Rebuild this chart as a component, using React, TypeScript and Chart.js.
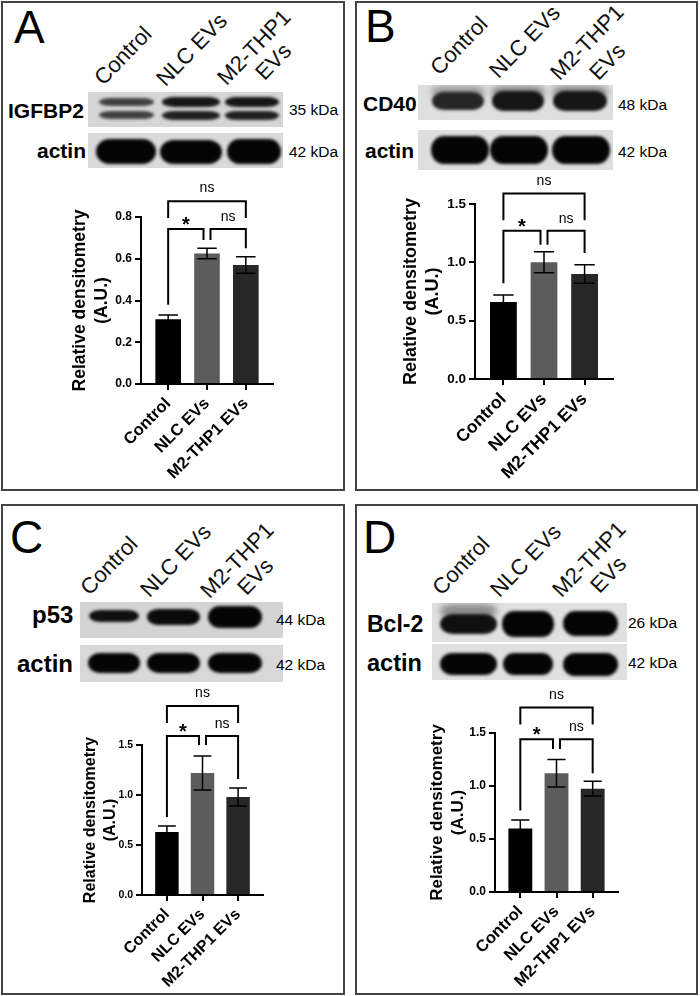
import React, { useEffect, useRef } from 'react';
import { Chart, registerables } from 'chart.js';

Chart.register(...registerables);

const FONT = '"Liberation Sans", Arial, Helvetica, sans-serif';

// ---------- data ----------
const categories = ['Control', 'NLC EVs', 'M2-THP1 EVs'];
const laneLabels = ['Control', 'NLC EVs', 'M2-THP1', 'EVs'];
const barColors = ['#000000', '#5c5c5c', '#272727'];
const sigLabels = ['ns', '*', 'ns'];
const yTitle = ['Relative densitometry', '(A.U.)'];

// A: IGFBP2
const meansA = [0.31, 0.625, 0.57];
const semA = [0.02, 0.025, 0.04];
const yTicksA = [0, 0.2, 0.4, 0.6, 0.8];
const bracketA = [0.875, 0.795, 0.743]; // outer top, outer leg end, inner top
const legEndsA = [0.38, 0.69, 0.69, 0.65];

// B: CD40
const meansB = [0.66, 1.0, 0.9];
const semB = [0.06, 0.09, 0.08];
const yTicksB = [0, 0.5, 1.0, 1.5];
const bracketB = [1.59, 1.36, 1.27];
const legEndsB = [0.82, 1.15, 1.15, 1.08];

// C: p53
const meansC = [0.63, 1.22, 0.98];
const semC = [0.06, 0.17, 0.09];
const yTicksC = [0, 0.5, 1.0, 1.5];
const bracketC = [1.89, 1.72, 1.59];
const legEndsC = [0.78, 1.5, 1.5, 1.16];

// D: Bcl-2
const meansD = [0.6, 1.12, 0.975];
const semD = [0.08, 0.13, 0.07];
const yTicksD = [0, 0.5, 1.0, 1.5];
const bracketD = [1.74, 1.58, 1.44];
const legEndsD = [0.77, 1.35, 1.35, 1.12];

// ---------- layout ----------
const panels = [
  {
    letter: 'A', letterPos: [14, 43], box: [1, 1, 344, 490],
    lanePos: [[104, 87], [166, 88], [227, 87], [265, 82]],
    protein: { text: 'IGFBP2', x: 8, y: 118, size: 21 },
    actin: { x: 37, y: 158, size: 21 },
    kda: [{ text: '35 kDa', x: 289, y: 115 }, { text: '42 kDa', x: 289, y: 157 }],
    blots: [
      { x: 88, y: 92, w: 195, h: 35, bg: '#d6d6d6', bands: [
        { cx: 126, w: 55, y: 98, h: 8, c: '#404040' }, { cx: 126, w: 55, y: 111, h: 8, c: '#404040' },
        { cx: 191, w: 58, y: 97, h: 10, c: '#151515' }, { cx: 191, w: 58, y: 111, h: 9, c: '#202020' },
        { cx: 252, w: 54, y: 97, h: 10, c: '#151515' }, { cx: 252, w: 54, y: 111, h: 9, c: '#202020' },
      ] },
      { x: 88, y: 133, w: 195, h: 35, bg: '#dadada', bands: [
        { cx: 126, w: 60, y: 139, h: 25, c: '#050505' },
        { cx: 191, w: 62, y: 140, h: 24, c: '#050505' },
        { cx: 254, w: 54, y: 139, h: 25, c: '#050505' },
      ] },
    ],
    chart: { left: 20, top: 160, width: 320, height: 328, axisX: 141, axisEndX: 273, topY: 217, bottomY: 384,
      titleX: 80, titleFont: 17.5, tickFont: 12, xFont: 16.5, yMax: 0.8,
      means: meansA, sem: semA, ticks: yTicksA, bracket: bracketA, legs: legEndsA },
  },
  {
    letter: 'B', letterPos: [365, 42], box: [355, 1, 343, 490],
    lanePos: [[440, 77], [499, 80], [560, 82], [599, 82]],
    protein: { text: 'CD40', x: 363, y: 111, size: 21 },
    actin: { x: 365, y: 158, size: 21 },
    kda: [{ text: '48 kDa', x: 618, y: 110 }, { text: '42 kDa', x: 618, y: 157 }],
    blots: [
      { x: 418, y: 85, w: 195, h: 35, bg: '#dedede', bands: [
        { cx: 458, w: 54, y: 86, h: 12, c: '#9a9a9a', blur: 3 },
        { cx: 518, w: 54, y: 86, h: 12, c: '#8a8a8a', blur: 3 },
        { cx: 580, w: 56, y: 86, h: 12, c: '#8a8a8a', blur: 3 },
        { cx: 458, w: 52, y: 92, h: 18, c: '#262626' },
        { cx: 518, w: 52, y: 91, h: 20, c: '#151515' },
        { cx: 580, w: 54, y: 91, h: 20, c: '#151515' },
      ] },
      { x: 418, y: 130, w: 195, h: 40, bg: '#dedede', bands: [
        { cx: 460, w: 58, y: 136, h: 28, c: '#050505' },
        { cx: 519, w: 58, y: 136, h: 28, c: '#050505' },
        { cx: 581, w: 58, y: 136, h: 28, c: '#050505' },
      ] },
    ],
    chart: { left: 370, top: 150, width: 320, height: 338, axisX: 475, axisEndX: 613, topY: 204, bottomY: 379,
      titleX: 411, titleFont: 18, tickFont: 13.5, xFont: 17.5, yMax: 1.5,
      means: meansB, sem: semB, ticks: yTicksB, bracket: bracketB, legs: legEndsB },
  },
  {
    letter: 'C', letterPos: [10, 553], box: [1, 504, 344, 491],
    lanePos: [[90, 597], [150, 599], [210, 600], [247, 597]],
    protein: { text: 'p53', x: 32, y: 623, size: 24 },
    actin: { x: 17, y: 672, size: 24 },
    kda: [{ text: '44 kDa', x: 276, y: 625 }, { text: '42 kDa', x: 276, y: 670 }],
    blots: [
      { x: 80, y: 602, w: 203, h: 36, bg: '#d4d4d4', bands: [
        { cx: 114, w: 50, y: 610, h: 12, c: '#101010' },
        { cx: 173, w: 53, y: 609, h: 16, c: '#0a0a0a' },
        { cx: 235, w: 54, y: 606, h: 22, c: '#050505' },
      ] },
      { x: 80, y: 645, w: 203, h: 37, bg: '#d8d8d8', bands: [
        { cx: 114, w: 52, y: 653, h: 20, c: '#050505' },
        { cx: 173, w: 53, y: 653, h: 20, c: '#050505' },
        { cx: 235, w: 54, y: 653, h: 20, c: '#050505' },
      ] },
    ],
    chart: { left: 20, top: 680, width: 320, height: 312, axisX: 142, axisEndX: 263, topY: 745, bottomY: 895,
      titleX: 91, titleFont: 16, tickFont: 10.5, xFont: 16, yMax: 1.5,
      means: meansC, sem: semC, ticks: yTicksC, bracket: bracketC, legs: legEndsC },
  },
  {
    letter: 'D', letterPos: [363, 553], box: [355, 504, 343, 491],
    lanePos: [[442, 597], [500, 599], [562, 599], [600, 595]],
    protein: { text: 'Bcl-2', x: 367, y: 632, size: 23 },
    actin: { x: 367, y: 672, size: 23.5 },
    kda: [{ text: '26 kDa', x: 628, y: 628 }, { text: '42 kDa', x: 628, y: 668 }],
    blots: [
      { x: 432, y: 603, w: 195, h: 39, bg: '#e0e0e0', bands: [
        { cx: 468, w: 57, y: 604, h: 14, c: '#8c8c8c', blur: 3 },
        { cx: 468, w: 57, y: 614, h: 20, c: '#101010' },
        { cx: 528, w: 52, y: 611, h: 26, c: '#050505' },
        { cx: 590, w: 55, y: 611, h: 25, c: '#050505' },
      ] },
      { x: 432, y: 644, w: 195, h: 36, bg: '#e0e0e0', bands: [
        { cx: 468, w: 57, y: 653, h: 22, c: '#050505' },
        { cx: 528, w: 50, y: 653, h: 22, c: '#050505' },
        { cx: 590, w: 55, y: 653, h: 23, c: '#050505' },
      ] },
    ],
    chart: { left: 370, top: 680, width: 320, height: 312, axisX: 495, axisEndX: 618, topY: 733, bottomY: 892,
      titleX: 437, titleFont: 17, tickFont: 12, xFont: 16.5, yMax: 1.5,
      means: meansD, sem: semD, ticks: yTicksD, bracket: bracketD, legs: legEndsD },
  },
];

// ---------- components ----------
function T({ x, y, size, bold, rot, color, children }: any) {
  return (
    <span style={{
      position: 'absolute', left: x, top: y - 0.8465 * size, fontFamily: FONT, fontSize: size,
      fontWeight: bold ? 700 : 400, lineHeight: 1, whiteSpace: 'nowrap', color: color ?? '#000',
      transformOrigin: `0px ${0.8465 * size}px`, transform: rot ? `rotate(${rot}deg)` : undefined,
    }}>{children}</span>
  );
}

function Blot({ b }: any) {
  return (
    <div style={{ position: 'absolute', left: b.x, top: b.y, width: b.w, height: b.h, background: b.bg, overflow: 'hidden' }}>
      {b.bands.map((d: any, i: number) => (
        <div key={i} style={{
          position: 'absolute', left: d.cx - d.w / 2 - b.x, top: d.y - b.y, width: d.w, height: d.h,
          background: d.c, borderRadius: '22% / 50%', filter: `blur(${d.blur ?? 1.5}px)`,
        }} />
      ))}
    </div>
  );
}

function BarChart({ g }: any) {
  const ref = useRef<HTMLCanvasElement>(null);
  useEffect(() => {
    const lh = g.titleFont * 1.25;
    const titleLeft = g.titleX - lh / 2;
    const padLeft = titleLeft - g.left;
    const yW = g.axisX - titleLeft;
    const padTop = g.topY - g.top;
    const padRight = g.left + g.width - g.axisEndX;
    const xH = g.top + g.height - g.bottomY;

    const annot = {
      id: 'annot',
      afterDatasetsDraw(chart: any) {
        const ctx = chart.ctx;
        const xs = chart.scales.x;
        const ys = chart.scales.y;
        const meta = chart.getDatasetMeta(0);
        ctx.save();
        ctx.strokeStyle = '#000';
        ctx.lineCap = 'butt';
        ctx.lineWidth = 1.5;
        g.means.forEach((m: number, i: number) => {
          const x = xs.getPixelForValue(i);
          const half = meta.data[i].width * 0.38;
          const yt = ys.getPixelForValue(m + g.sem[i]);
          const yb = ys.getPixelForValue(m - g.sem[i]);
          ctx.beginPath();
          ctx.moveTo(x, yb); ctx.lineTo(x, yt);
          ctx.moveTo(x - half, yt); ctx.lineTo(x + half, yt);
          ctx.moveTo(x - half, yb); ctx.lineTo(x + half, yb);
          ctx.stroke();
        });
        const x0 = xs.getPixelForValue(0);
        const x1 = xs.getPixelForValue(1);
        const x2 = xs.getPixelForValue(2);
        const gap = 3.5;
        const yO = ys.getPixelForValue(g.bracket[0]);
        const yOL = ys.getPixelForValue(g.bracket[1]);
        const yI = ys.getPixelForValue(g.bracket[2]);
        const L = g.legs.map((v: number) => ys.getPixelForValue(v));
        ctx.lineWidth = 2;
        ctx.lineJoin = 'miter';
        const poly = (pts: number[][]) => {
          ctx.beginPath();
          ctx.moveTo(pts[0][0], pts[0][1]);
          for (let k = 1; k < pts.length; k++) ctx.lineTo(pts[k][0], pts[k][1]);
          ctx.stroke();
        };
        poly([[x0, yOL], [x0, yO], [x2, yO], [x2, yOL]]);
        poly([[x0, L[0]], [x0, yI], [x1 - gap, yI], [x1 - gap, L[1]]]);
        poly([[x1 + gap, L[2]], [x1 + gap, yI], [x2, yI], [x2, L[3]]]);
        ctx.fillStyle = '#000';
        ctx.textAlign = 'center';
        ctx.textBaseline = 'alphabetic';
        ctx.font = `14px ${FONT}`;
        ctx.fillText(sigLabels[0], (x0 + x2) / 2, yO - 9);
        ctx.fillText(sigLabels[2], (x1 + gap + x2) / 2, yI - 8);
        ctx.font = `bold 20px ${FONT}`;
        ctx.fillText(sigLabels[1], (x0 + x1 - gap) / 2, yI + 2);
        ctx.restore();
      },
    };

    const axisGrid = { drawOnChartArea: false, drawTicks: true, tickLength: 6, color: '#000', lineWidth: 2, offset: false };
    const axisBorder = { display: true, color: '#000', width: 2 };

    const chart = new Chart(ref.current as HTMLCanvasElement, {
      type: 'bar',
      data: {
        datasets: [{
          data: g.means.map((v: number, i: number) => ({ x: i, y: v })),
          backgroundColor: barColors,
          borderWidth: 0,
          barPercentage: 0.66,
          categoryPercentage: 1,
        }],
      },
      options: {
        animation: false,
        responsive: false,
        maintainAspectRatio: false,
        layout: { padding: { left: padLeft, top: padTop, right: padRight, bottom: 0 } },
        plugins: { legend: { display: false }, tooltip: { enabled: false } },
        scales: {
          x: {
            type: 'linear', min: -0.7, max: 2.7, offset: false,
            afterBuildTicks: (s: any) => { s.ticks = categories.map((_, i) => ({ value: i })); },
            afterFit: (s: any) => { s.height = xH; },
            ticks: {
              autoSkip: false, maxRotation: 45, minRotation: 45, padding: 4, color: '#000',
              font: { family: FONT, weight: 'bold', size: g.xFont },
              callback: (v: any) => categories[v] ?? '',
            },
            grid: axisGrid,
            border: axisBorder,
          },
          y: {
            min: 0, max: g.yMax,
            afterBuildTicks: (s: any) => { s.ticks = g.ticks.map((v: number) => ({ value: v })); },
            afterFit: (s: any) => { s.width = yW; },
            ticks: {
              padding: 3, color: '#000',
              font: { family: FONT, weight: 'bold', size: g.tickFont },
              callback: (v: any) => Number(v).toFixed(1),
            },
            grid: axisGrid,
            border: axisBorder,
            title: {
              display: true, text: yTitle, color: '#000', padding: 0,
              font: { family: FONT, weight: 'bold', size: g.titleFont, lineHeight: 1.25 },
            },
          },
        },
      },
      plugins: [annot],
    } as any);
    return () => chart.destroy();
  }, []);
  return (
    <canvas ref={ref} width={g.width} height={g.height}
      style={{ position: 'absolute', left: g.left, top: g.top, width: g.width, height: g.height }} />
  );
}

function Panel({ p }: any) {
  const [bx, by, bw, bh] = p.box;
  return (
    <>
      <div style={{ position: 'absolute', left: bx, top: by, width: bw, height: bh, border: '2px solid #444', boxSizing: 'border-box' }} />
      <T x={p.letterPos[0]} y={p.letterPos[1]} size={46}>{p.letter}</T>
      {laneLabels.map((t, i) => (
        <T key={i} x={p.lanePos[i][0]} y={p.lanePos[i][1]} size={22} rot={-46} color="#111">{t}</T>
      ))}
      {p.blots.map((b: any, i: number) => <Blot key={i} b={b} />)}
      <T x={p.protein.x} y={p.protein.y} size={p.protein.size} bold>{p.protein.text}</T>
      <T x={p.actin.x} y={p.actin.y} size={p.actin.size} bold>actin</T>
      {p.kda.map((k: any, i: number) => <T key={i} x={k.x} y={k.y} size={15.5}>{k.text}</T>)}
      <BarChart g={p.chart} />
    </>
  );
}

export default function App() {
  return (
    <div style={{ position: 'absolute', left: 0, top: 0, width: 700, height: 996, background: '#fff', overflow: 'hidden' }}>
      {panels.map((p, i) => <Panel key={i} p={p} />)}
    </div>
  );
}
